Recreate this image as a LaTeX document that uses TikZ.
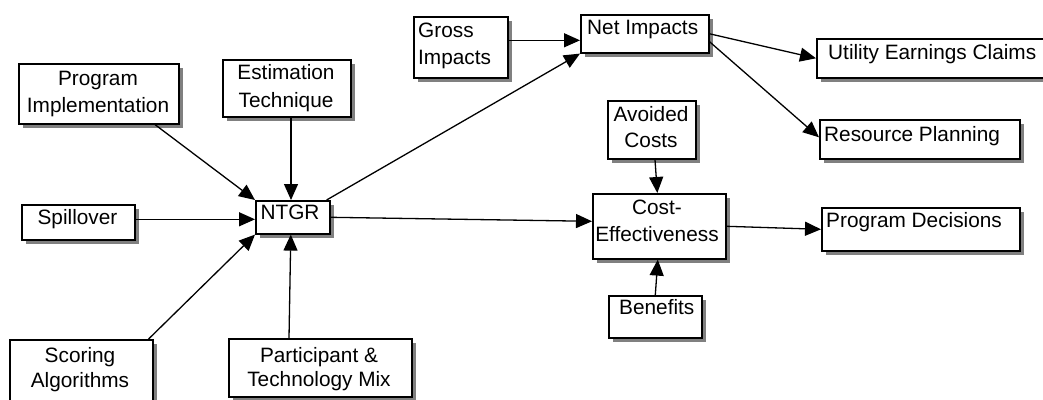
\documentclass[tikz,border=0pt]{standalone}
\usepackage{fontspec}
\setmainfont{Liberation Sans}
\usetikzlibrary{arrows.meta,calc}
\definecolor{shd}{RGB}{128,128,128}
\tikzset{
  box/.style={draw=black, line width=1.6pt, fill=white, inner sep=0pt, anchor=north west},
  shadowbox/.style={fill=shd},
  txt/.style={inner sep=0pt, font=\fontsize{20.8}{26}\selectfont},
  arr/.style={line width=1.3pt, -{Triangle[length=16pt,width=14pt]}},
}
% #1 name, #2 x, #3 y (top-left), #4 width, #5 height
\newcommand\mkbox[5]{%
  \fill[shadowbox] (#2+5,#3+5) rectangle ++(#4,#5);
  \node[box, minimum width=#4pt, minimum height=#5pt] (#1) at (#2,#3) {};
}
\begin{document}
\begin{tikzpicture}[x=1pt,y=-1pt]
\useasboundingbox (0,0) rectangle (1043,399);
% boxes
\mkbox{pi}{18}{63}{160}{60}
\mkbox{est}{222}{59}{128}{57}
\mkbox{spill}{21}{204}{113}{35}
\mkbox{ntgr}{255}{200}{74}{33}
\mkbox{sc}{9}{339}{143}{65}
\mkbox{part}{228}{338}{183}{58}
\mkbox{gross}{413}{16}{94}{61}
\mkbox{net}{580}{14}{128}{38}
\mkbox{avoid}{607}{100}{88}{58}
\mkbox{ce}{592}{193}{133}{65}
\mkbox{ben}{608}{295}{93}{42}
\mkbox{util}{816}{38}{234}{39}
\mkbox{res}{819}{119}{200}{39}
\mkbox{pd}{821}{207}{198}{43}
% connectors
\draw[arr] ([xshift=137pt]pi.south west) -- (ntgr.north west);
\draw[arr] ([xshift=69pt]est.south west) -- ([xshift=69pt]est.south west |- ntgr.north);
\draw[arr] ([yshift=3pt]spill.east) -- ([yshift=3pt]spill.east -| ntgr.west);
\draw[arr] ([xshift=-5pt]sc.north east) -- (ntgr.south west);
\draw[arr] ([xshift=61pt]part.north west) -- ([xshift=-2pt]ntgr.south);
\draw[arr] ([xshift=-4pt]ntgr.north east) -- (net.south west);
\draw[arr] (ntgr.east) -- ([yshift=5pt]ce.west);
\draw[arr] ([yshift=7pt]gross.east) -- ([yshift=7pt]gross.east -| net.west);
\draw[arr] (net.east) -- (util.west);
\draw[arr] ([yshift=-8pt]net.east) -- ([yshift=2pt]res.west);
\draw[arr] ([xshift=48pt]avoid.south west) -- ([xshift=-2pt]ce.north);
\draw[arr] (ben.north) -- ([xshift=-1.5pt]ce.south);
\draw[arr] (ce.east) -- (pd.west);
% texts
\node[txt, anchor=base] (t-pi1) at (98,85) {Program};
\node[txt, anchor=base] (t-pi2) at (98,112) {Implementation};
\node[txt, anchor=base] (t-est1) at (286,79) {Estimation};
\node[txt, anchor=base] (t-est2) at (286,107) {Technique};
\node[txt, anchor=base] (t-spill) at (77.5,224) {Spillover};
\node[txt, anchor=base] (t-ntgr) at (290,219) {NTGR};
\node[txt, anchor=base] (t-sc1) at (80,362) {Scoring};
\node[txt, anchor=base] (t-sc2) at (80,387) {Algorithms};
\node[txt, anchor=base] (t-part1) at (319,362) {Participant \&};
\node[txt, anchor=base] (t-part2) at (319,386) {Technology Mix};
\node[txt, anchor=base west] (t-gross1) at (418,37) {Gross};
\node[txt, anchor=base west] (t-gross2) at (418,64) {Impacts};
\node[txt, anchor=base west] (t-net) at (587,34) {Net Impacts};
\node[txt, anchor=base] (t-avoid1) at (651,121) {Avoided};
\node[txt, anchor=base] (t-avoid2) at (651,147) {Costs};
\node[txt, anchor=base] (t-ce1) at (657,214) {Cost-};
\node[txt, anchor=base] (t-ce2) at (657,241) {Effectiveness};
\node[txt, anchor=base west] (t-ben) at (619,314) {Benefits};
\node[txt, anchor=base west] (t-util) at (828,59) {Utility Earnings Claims};
\node[txt, anchor=base west] (t-res) at (824,141) {Resource Planning};
\node[txt, anchor=base west] (t-pd) at (826,227) {Program Decisions};
\end{tikzpicture}
\end{document}
